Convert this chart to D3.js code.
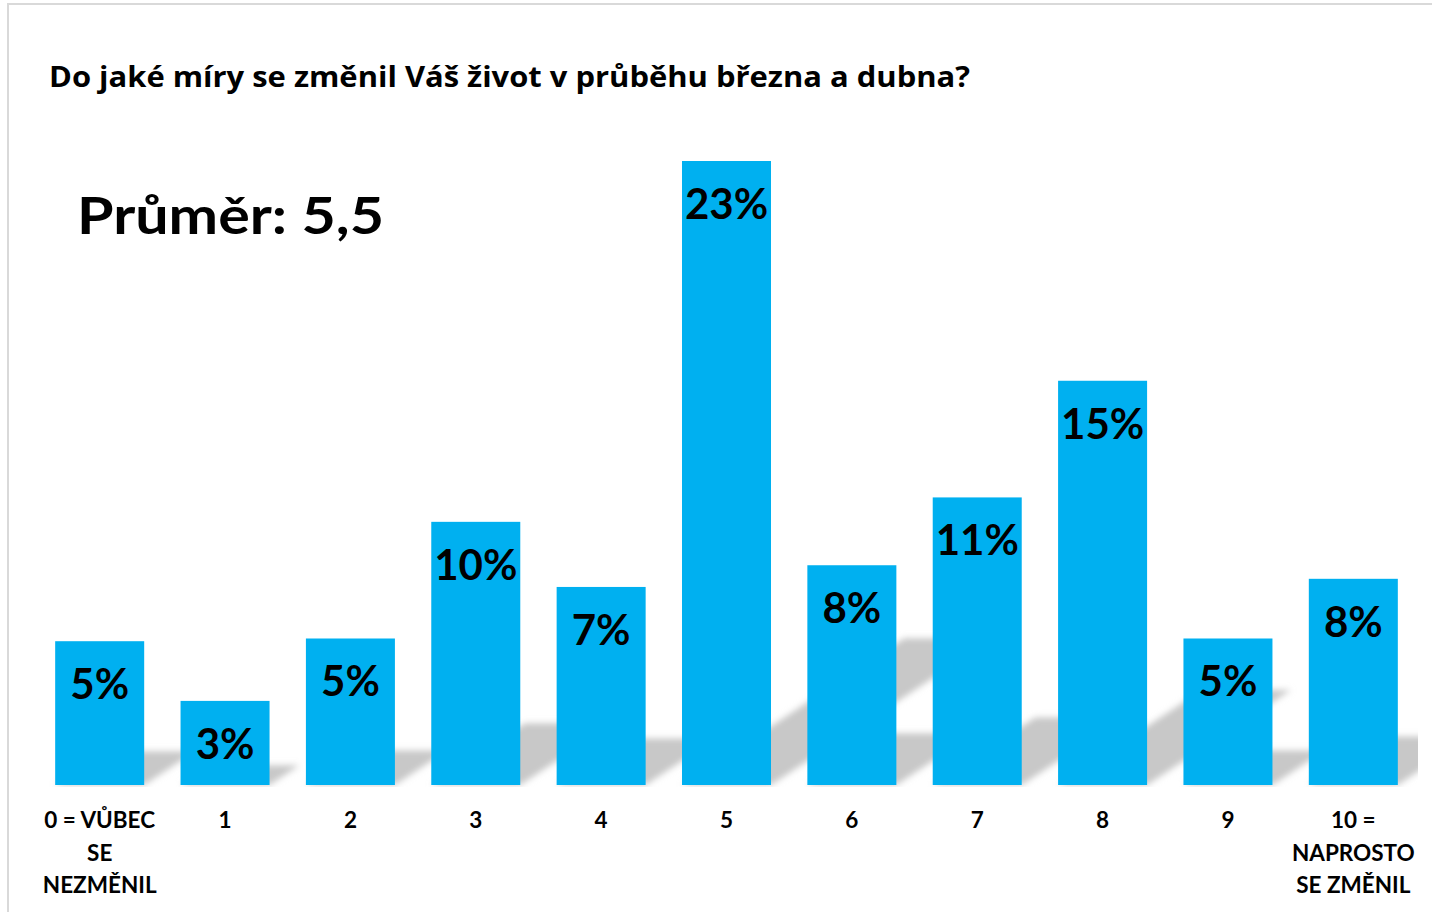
<!DOCTYPE html>
<html>
<head>
<meta charset="utf-8">
<script src="https://cdn.jsdelivr.net/npm/d3@7"></script>
<style>
	body { margin: 0; background: #fff; }
	svg { display: block; font-family: Lato, "Noto Sans", sans-serif; font-weight: bold; }
</style>
</head>
<body>
<svg id="chart" width="1432" height="912"></svg>
<script>
var title_text = "Do jaké míry se změnil Váš život v průběhu března a dubna?";
var mean_text = "Průměr: 5,5";
var categories = ["0", "1", "2", "3", "4", "5", "6", "7", "8", "9", "10"];
var category_lines = [
	["0 = VŮBEC", "SE", "NEZMĚNIL"], ["1"], ["2"], ["3"], ["4"], ["5"],
	["6"], ["7"], ["8"], ["9"], ["10 =", "NAPROSTO", "SE ZMĚNIL"]
];
// share of respondents, %
var values = [5.3, 3.1, 5.4, 9.7, 7.3, 23.0, 8.1, 10.6, 14.9, 5.4, 7.6];

var svg = d3.select("#chart");
var base_y = 785;

var x = d3.scaleBand()
	.domain(categories)
	.range([37, 1416])
	.paddingInner(0.29)
	.paddingOuter(0.145);

var y = d3.scaleLinear()
	.domain([0, 23])
	.range([base_y, 161]);

// frame
svg.append("rect")
	.attr("x", 8).attr("y", 4)
	.attr("width", 1500).attr("height", 1000)
	.attr("fill", "none")
	.attr("stroke", "#d9d9d9")
	.attr("stroke-width", 2);

svg.append("text")
	.attr("x", 49).attr("y", 87)
	.attr("font-family", "'Open Sans', Lato, sans-serif")
	.attr("font-size", 28)
	.attr("fill", "#000")
	.attr("textLength", 921)
	.attr("lengthAdjust", "spacingAndGlyphs")
	.text(title_text);

svg.append("text")
	.attr("x", 77).attr("y", 234)
	.attr("font-size", 52)
	.attr("fill", "#000")
	.attr("textLength", 307)
	.attr("lengthAdjust", "spacingAndGlyphs")
	.text(mean_text);

var defs = svg.append("defs");
defs.append("filter").attr("id", "soft")
	.attr("x", "-20%").attr("y", "-20%").attr("width", "140%").attr("height", "140%")
	.append("feGaussianBlur").attr("stdDeviation", 3);
defs.append("clipPath").attr("id", "plot_clip")
	.append("rect").attr("x", 0).attr("y", 0).attr("width", 1418).attr("height", base_y + 2);

// perspective shadow, leaning to the upper right
function shadow_points(d, i){
	var c = categories[i];
	var x0 = x(c), x1 = x(c) + x.bandwidth();
	var h = base_y - y(d);
	var rise = h * 0.235, run = rise / 0.66;
	return [[x0, base_y], [x1, base_y], [x1 + run, base_y - rise], [x0 + run, base_y - rise]]
		.map(function(p){ return p.join(","); }).join(" ");
}

svg.append("g")
	.attr("clip-path", "url(#plot_clip)")
	.append("g")
	.attr("filter", "url(#soft)")
	.selectAll("polygon")
	.data(values)
	.join("polygon")
	.attr("points", shadow_points)
	.attr("fill", "#c8c8c8");

svg.append("g")
	.selectAll("rect")
	.data(values)
	.join("rect")
	.attr("x", function(d, i){ return x(categories[i]); })
	.attr("y", function(d){ return y(d); })
	.attr("width", x.bandwidth())
	.attr("height", function(d){ return base_y - y(d); })
	.attr("fill", "#00b0f0");

svg.append("g")
	.selectAll("text")
	.data(values)
	.join("text")
	.attr("x", function(d, i){ return x(categories[i]) + x.bandwidth() / 2; })
	.attr("y", function(d){ return y(d) + 58; })
	.attr("text-anchor", "middle")
	.attr("font-size", 42)
	.attr("fill", "#000")
	.text(function(d){ return Math.round(d) + "%"; });

var axis = svg.append("g")
	.attr("transform", "translate(0," + base_y + ")")
	.call(d3.axisBottom(x).tickSize(0).tickPadding(0));

axis.select(".domain").remove();
axis.selectAll(".tick text")
	.attr("font-size", 22.5)
	.attr("fill", "#000")
	.attr("dy", null)
	.attr("y", 43)
	.text(null)
	.each(function(c, i){
		var t = d3.select(this);
		category_lines[i].forEach(function(line, k){
			t.append("tspan")
				.attr("x", 0)
				.attr("dy", k === 0 ? 0 : 32.5)
				.text(line);
		});
	});
axis.attr("font-family", null).attr("font-size", null);
</script>
</body>
</html>
